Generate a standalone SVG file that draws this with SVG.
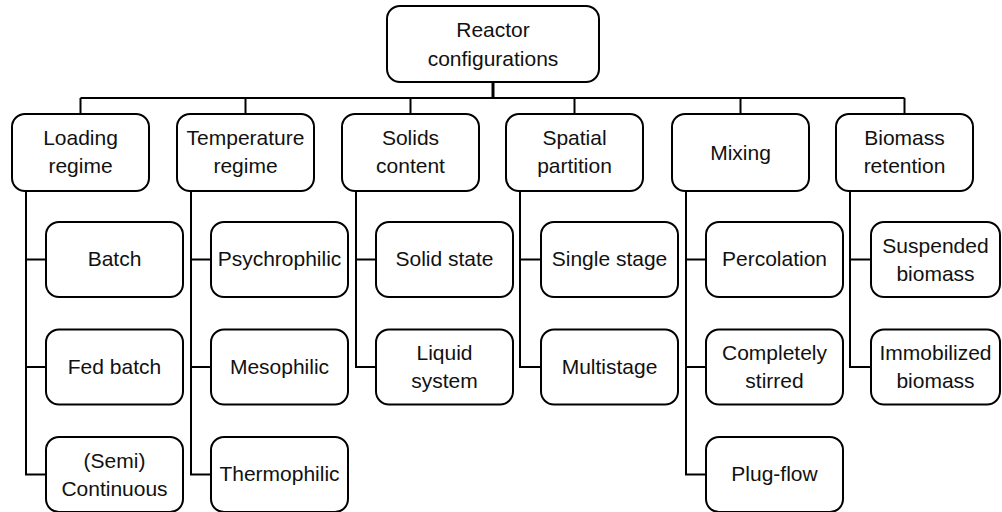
<svg xmlns="http://www.w3.org/2000/svg" width="1002" height="512" viewBox="0 0 1002 512">
  <style>
    .box { fill: #ffffff; stroke: #000000; stroke-width: 2; }
    .wire { fill: none; stroke: #000000; stroke-width: 2; }
    .stem { fill: none; stroke: #000000; stroke-width: 3; }
    text { font-family: "Liberation Sans", Arial, sans-serif; font-size: 21px; fill: #111111; text-anchor: middle; }
  </style>
  <rect width="1002" height="512" fill="#ffffff"/>

  <!-- connectors -->
  <g id="connectors">
    <path class="stem" d="M493,82 V98"/>
    <path class="wire" d="M80.5,98 H904.5 M80.5,98 V114 M245.5,98 V114 M410.5,98 V114 M574.5,98 V114 M740.5,98 V114 M904.5,98 V114"/>
    <!-- Loading regime branches -->
    <path class="wire" d="M26,191 V474.5 H46 M26,259.5 H46 M26,367 H46"/>
    <!-- Temperature regime branches -->
    <path class="wire" d="M191,191 V474.5 H211 M191,259.5 H211 M191,367 H211"/>
    <!-- Solids content branches -->
    <path class="wire" d="M356,191 V367 H376 M356,259.5 H376"/>
    <!-- Spatial partition branches -->
    <path class="wire" d="M520,191 V367 H541 M520,259.5 H541"/>
    <!-- Mixing branches -->
    <path class="wire" d="M686,191 V474.5 H706 M686,259.5 H706 M686,367 H706"/>
    <!-- Biomass retention branches -->
    <path class="wire" d="M850,191 V367 H871 M850,259.5 H871"/>
  </g>

  <!-- root -->
  <g id="root">
    <rect class="box" x="387" y="6" width="212" height="76" rx="13"/>
    <text x="493" y="37">Reactor</text>
    <text x="493" y="66">configurations</text>
  </g>

  <!-- categories -->
  <g id="loading-regime">
    <rect class="box" x="12" y="114" width="137" height="77" rx="13"/>
    <text x="80.5" y="145">Loading</text>
    <text x="80.5" y="173">regime</text>
  </g>
  <g id="temperature-regime">
    <rect class="box" x="177" y="114" width="137" height="77" rx="13"/>
    <text x="245.5" y="145">Temperature</text>
    <text x="245.5" y="173">regime</text>
  </g>
  <g id="solids-content">
    <rect class="box" x="342" y="114" width="137" height="77" rx="13"/>
    <text x="410.5" y="145">Solids</text>
    <text x="410.5" y="173">content</text>
  </g>
  <g id="spatial-partition">
    <rect class="box" x="506" y="114" width="137" height="77" rx="13"/>
    <text x="574.5" y="145">Spatial</text>
    <text x="574.5" y="173">partition</text>
  </g>
  <g id="mixing">
    <rect class="box" x="672" y="114" width="137" height="77" rx="13"/>
    <text x="740.5" y="159.5">Mixing</text>
  </g>
  <g id="biomass-retention">
    <rect class="box" x="836" y="114" width="137" height="77" rx="13"/>
    <text x="904.5" y="145">Biomass</text>
    <text x="904.5" y="173">retention</text>
  </g>

  <!-- Loading regime options -->
  <g id="batch">
    <rect class="box" x="46" y="222" width="137" height="75" rx="13"/>
    <text x="114.5" y="266">Batch</text>
  </g>
  <g id="fed-batch">
    <rect class="box" x="46" y="329.5" width="137" height="75" rx="13"/>
    <text x="114.5" y="373.5">Fed batch</text>
  </g>
  <g id="semi-continuous">
    <rect class="box" x="46" y="437" width="137" height="75" rx="13"/>
    <text x="114.5" y="467.5">(Semi)</text>
    <text x="114.5" y="495.5">Continuous</text>
  </g>

  <!-- Temperature regime options -->
  <g id="psychrophilic">
    <rect class="box" x="211" y="222" width="137" height="75" rx="13"/>
    <text x="279.5" y="266">Psychrophilic</text>
  </g>
  <g id="mesophilic">
    <rect class="box" x="211" y="329.5" width="137" height="75" rx="13"/>
    <text x="279.5" y="373.5">Mesophilic</text>
  </g>
  <g id="thermophilic">
    <rect class="box" x="211" y="437" width="137" height="75" rx="13"/>
    <text x="279.5" y="481">Thermophilic</text>
  </g>

  <!-- Solids content options -->
  <g id="solid-state">
    <rect class="box" x="376" y="222" width="137" height="75" rx="13"/>
    <text x="444.5" y="266">Solid state</text>
  </g>
  <g id="liquid-system">
    <rect class="box" x="376" y="329.5" width="137" height="75" rx="13"/>
    <text x="444.5" y="360">Liquid</text>
    <text x="444.5" y="388">system</text>
  </g>

  <!-- Spatial partition options -->
  <g id="single-stage">
    <rect class="box" x="541" y="222" width="137" height="75" rx="13"/>
    <text x="609.5" y="266">Single stage</text>
  </g>
  <g id="multistage">
    <rect class="box" x="541" y="329.5" width="137" height="75" rx="13"/>
    <text x="609.5" y="373.5">Multistage</text>
  </g>

  <!-- Mixing options -->
  <g id="percolation">
    <rect class="box" x="706" y="222" width="137" height="75" rx="13"/>
    <text x="774.5" y="266">Percolation</text>
  </g>
  <g id="completely-stirred">
    <rect class="box" x="706" y="329.5" width="137" height="75" rx="13"/>
    <text x="774.5" y="360">Completely</text>
    <text x="774.5" y="388">stirred</text>
  </g>
  <g id="plug-flow">
    <rect class="box" x="706" y="437" width="137" height="75" rx="13"/>
    <text x="774.5" y="481">Plug-flow</text>
  </g>

  <!-- Biomass retention options -->
  <g id="suspended-biomass">
    <rect class="box" x="871" y="222" width="129" height="75" rx="13"/>
    <text x="935.5" y="252.5">Suspended</text>
    <text x="935.5" y="280.5">biomass</text>
  </g>
  <g id="immobilized-biomass">
    <rect class="box" x="871" y="329.5" width="129" height="75" rx="13"/>
    <text x="935.5" y="360">Immobilized</text>
    <text x="935.5" y="388">biomass</text>
  </g>
</svg>
